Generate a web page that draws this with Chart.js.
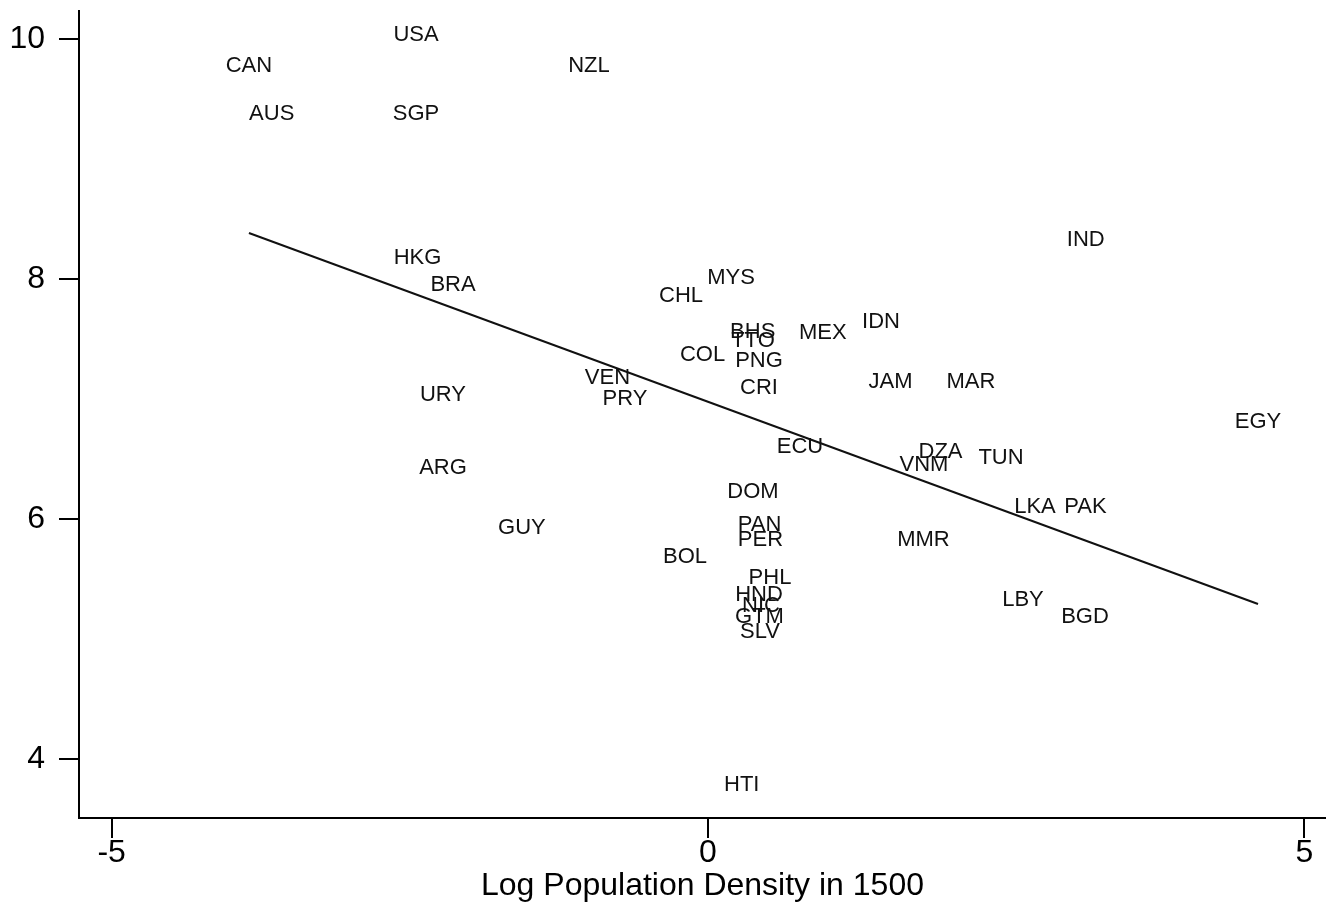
<!DOCTYPE html>
<html><head><meta charset="utf-8">
<script src="https://cdn.jsdelivr.net/npm/chart.js@4"></script>
<style>html,body{margin:0;background:#fff}</style>
</head><body>
<canvas id="c" width="1326" height="903"></canvas>
<script>
// country codes, log pop density 1500 (x), log GDP per capita (y)
const countries=["USA","CAN","NZL","AUS","SGP","HKG","BRA","IND","MYS","CHL","IDN","BHS","TTO","MEX","COL","PNG","VEN","JAM","MAR","CRI","URY","PRY","EGY","ECU","DZA","TUN","VNM","ARG","DOM","LKA","PAK","GUY","PAN","PER","MMR","BOL","PHL","HND","NIC","LBY","GTM","BGD","SLV","HTI"];
const logDens=[-2.448,-3.849,-0.998,-3.658,-2.448,-2.436,-2.138,3.168,0.193,-0.226,1.451,0.375,0.377,0.963,-0.046,0.428,-0.843,1.530,2.204,0.428,-2.222,-0.696,4.612,0.771,1.950,2.457,1.811,-2.222,0.377,2.742,3.165,-1.560,0.432,0.440,1.807,-0.193,0.520,0.428,0.444,2.641,0.432,3.161,0.436,0.283];
const logGdp=[10.054,9.794,9.794,9.396,9.396,8.196,7.967,8.347,8.029,7.878,7.658,7.578,7.503,7.571,7.388,7.338,7.194,7.163,7.163,7.113,7.053,7.019,6.830,6.615,6.573,6.523,6.465,6.444,6.244,6.119,6.119,5.946,5.969,5.840,5.840,5.703,5.528,5.386,5.294,5.340,5.198,5.198,5.073,3.798];
// fitted line end points
const fitX=[-3.849,4.612];
const fitY=[8.386,5.294];
const xTicks=[-5,0,5];
const yTicks=[4,6,8,10];
const xTitle="Log Population Density in 1500";

const FAM='"Liberation Sans", Arial, sans-serif';
const LBL=22;

const labelPlugin={id:"mlabels",
  afterDatasetsDraw(chart){
    const ctx=chart.ctx,meta=chart.getDatasetMeta(0);
    ctx.save();
    ctx.font=LBL+"px "+FAM;ctx.fillStyle="#111";
    ctx.textAlign="center";ctx.textBaseline="alphabetic";
    meta.data.forEach((p,i)=>ctx.fillText(countries[i],p.x,p.y+LBL*0.36));
    ctx.restore();
  }};

const pts=countries.map((c,i)=>({x:logDens[i],y:logGdp[i]}));
const fit=fitX.map((x,i)=>({x,y:fitY[i]}));

new Chart(document.getElementById("c").getContext("2d"),{
  type:"scatter",
  data:{datasets:[
    {data:pts,pointRadius:0,pointHoverRadius:0},
    {data:fit,showLine:true,borderColor:"#111",borderWidth:2,pointRadius:0,fill:false}
  ]},
  options:{responsive:false,animation:false,events:[],
    layout:{padding:{top:11,right:0,bottom:0,left:0}},
    plugins:{legend:{display:false},tooltip:{enabled:false}},
    scales:{
      x:{type:"linear",min:-5.274,max:5.182,
        afterBuildTicks:s=>{s.ticks=xTicks.map(v=>({value:v}))},
        afterFit:s=>{s.height=85;s.paddingLeft=0;s.paddingRight=0},
        grid:{drawOnChartArea:false,tickLength:20,color:"#000",lineWidth:2},
        border:{color:"#000",width:2},
        ticks:{color:"#000",font:{size:32,family:FAM},padding:-4,maxRotation:0,autoSkip:false},
        title:{display:true,text:xTitle,color:"#000",font:{size:32,family:FAM},padding:{top:0,bottom:-2}}},
      y:{type:"linear",min:3.511,max:10.236,
        afterBuildTicks:s=>{s.ticks=yTicks.map(v=>({value:v}))},
        afterFit:s=>{s.width=79;s.paddingTop=0;s.paddingBottom=0},
        grid:{drawOnChartArea:false,tickLength:20,color:"#000",lineWidth:2},
        border:{color:"#000",width:2},
        ticks:{color:"#000",font:{size:32,family:FAM},padding:14,autoSkip:false}}
    }},
  plugins:[labelPlugin]
});
</script>
</body></html>
